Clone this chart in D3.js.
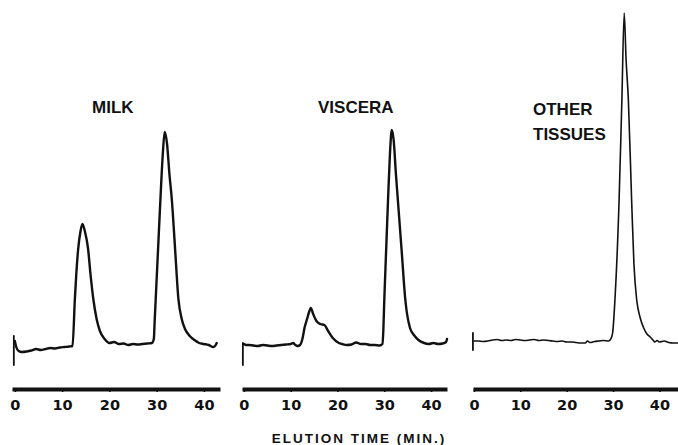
<!DOCTYPE html>
<html>
<head>
<meta charset="utf-8">
<script src="https://cdn.jsdelivr.net/npm/d3@7"></script>
<style>
  body { margin: 0; background: #fff; }
  svg { display: block; }
  .axis .domain { stroke: #111; stroke-width: 4; }
  .axis .tick line { stroke: #111; stroke-width: 1.6; }
  .axis .tick text { font-family: "DejaVu Sans", sans-serif; font-weight: bold; font-size: 14.5px; fill: #111; }
  .trace { fill: none; stroke: #111; stroke-linejoin: round; stroke-linecap: round; }
  .label { font-family: "Liberation Sans", Arial, sans-serif; font-weight: bold; font-size: 17px; fill: #111; }
  .xlabel { font-family: "Liberation Sans", Arial, sans-serif; font-weight: bold; font-size: 13.5px; letter-spacing: 2px; fill: #111; }
</style>
</head>
<body>
<div id="graph"></div>
<script>
'use strict';

// elution time (min) vs detector response
let milkTrace = [
  [0, 48], [0.3, 42], [0.8, 38], [1.5, 37], [2.5, 37.5], [3.5, 38.5], [4.5, 40], [5.5, 39],
  [6.5, 40], [7.5, 41], [8.5, 40.5], [9.5, 41.5], [10.5, 42], [11.5, 42.5], [12.2, 43],
  [12.7, 90], [13.0, 115], [13.4, 140], [13.9, 158], [14.3, 165], [14.8, 158], [15.5, 140],
  [16.0, 115], [16.6, 90], [17.3, 70], [18.0, 58], [19.0, 50], [20.0, 46], [21, 47], [22, 45],
  [23, 45.5], [24, 44], [25, 45], [26, 44.5], [27, 45], [28, 45.5], [29.0, 46], [29.4, 50],
  [29.6, 70], [29.8, 90], [30.3, 140], [30.8, 190], [31.3, 235], [31.7, 257], [32.2, 245],
  [32.7, 215], [33.2, 190], [33.9, 140], [34.6, 90], [35.3, 70], [36.0, 60], [37.0, 53],
  [38.0, 49], [39.0, 46], [40, 45], [41, 44], [42, 42], [42.5, 44], [42.7, 46]
];
let visceraTrace = [
  [0, 45], [0.5, 44], [1, 44], [2, 43.5], [3, 43], [4, 44], [5, 43.5], [6, 43], [7, 43.5],
  [8, 44], [9, 44.5], [10, 45], [10.5, 46], [11, 44], [11.5, 43], [12.0, 44], [12.5, 50],
  [13.0, 62], [13.5, 70], [14.0, 78], [14.3, 81], [14.8, 75], [15.5, 68], [16.3, 65],
  [17.2, 64], [18.0, 58], [19.0, 51], [20.3, 46], [21, 45], [22, 44], [23, 44.5], [24, 46.5],
  [25, 45], [26, 45], [27, 44], [28, 44], [29, 43.5], [29.6, 45], [29.8, 59], [30.0, 89],
  [30.4, 139], [30.8, 189], [31.2, 234], [31.6, 259], [32.0, 249], [32.5, 214], [32.9, 189],
  [33.7, 139], [34.5, 89], [35.5, 61], [36.5, 53], [37.3, 49], [38.5, 46], [39.5, 45],
  [40.5, 46], [41.5, 45], [42.5, 45.5], [43.2, 47], [43.4, 50]
];
let otherTrace = [
  [0, 48], [1, 48], [2, 47.5], [3, 48], [4, 49], [5, 49.5], [6, 48.5], [7, 49], [8, 48.5],
  [9, 49.5], [10, 49], [11, 48.5], [12, 49], [13, 49.5], [14, 48.5], [15, 49], [16, 48.5],
  [17, 48], [18, 47.5], [19, 48], [20, 47], [21, 47], [22, 46.5], [23, 46], [24, 46],
  [24.5, 48], [25, 46.5], [26, 47.5], [27, 48], [28, 48.5], [29, 48], [29.5, 50], [29.9, 56],
  [30.4, 89], [31.3, 189], [31.9, 289], [32.4, 376], [32.8, 330], [33.3, 289], [34.0, 189],
  [34.5, 125], [35.1, 89], [35.8, 72], [36.6, 61], [37.3, 55], [38.0, 52], [38.6, 49],
  [39, 47], [39.5, 48.5], [40, 47], [41, 48], [42, 46.5], [43, 46], [44, 46]
];

let panelNames = [['MILK'], ['VISCERA'], ['OTHER', 'TISSUES']];
let traces = [milkTrace, visceraTrace, otherTrace];
// pen start mark at t = 0: [top, bottom] response
let startMarks = [[53, 24], [46, 24], [56, 39]];
let tickValues = [0, 10, 20, 30, 40];
let timeDomains = [[-0.6, 43.4], [-0.4, 43.4], [-0.2, 44.0]];
let xLabel = 'ELUTION TIME (MIN.)';

let w = 678, h = 445;
let svg = d3.select('#graph').append('svg').attr('width', w).attr('height', h);

// panel layout in pixels
let panels = [
  {range: [12, 220], label: [92, 113], width: 2.4},
  {range: [242, 447], label: [318, 113], width: 2.4},
  {range: [473, 678], label: [533, 115], width: 1.6}
];

let y = d3.scaleLinear().domain([0, 380]).range([389, 9]);

panels.forEach(function(p, i){
  let x = d3.scaleLinear().domain(timeDomains[i]).range(p.range);

  let axis = d3.axisBottom(x)
    .tickValues(tickValues)
    .tickSize(3)
    .tickSizeOuter(0)
    .tickPadding(8);
  svg.append('g')
    .attr('class', 'axis')
    .attr('transform', 'translate(0,' + y(0) + ')')
    .call(axis);

  let line = d3.line()
    .x(function(d){ return x(d[0]); })
    .y(function(d){ return y(d[1]); })
    .curve(d3.curveMonotoneX);
  svg.append('path')
    .datum(traces[i])
    .attr('class', 'trace')
    .attr('stroke-width', p.width)
    .attr('d', line);

  // little vertical stroke where the pen started
  svg.append('line')
    .attr('class', 'trace')
    .attr('stroke-width', 1.8)
    .attr('x1', x(0) - 1).attr('x2', x(0) - 1)
    .attr('y1', y(startMarks[i][0])).attr('y2', y(startMarks[i][1]));

  svg.append('text')
    .attr('class', 'label')
    .selectAll('tspan')
    .data(panelNames[i])
    .enter().append('tspan')
    .attr('x', p.label[0])
    .attr('y', function(d, j){ return p.label[1] + j * 25; })
    .text(function(d){ return d; });
});

svg.append('text')
  .attr('class', 'xlabel')
  .attr('text-anchor', 'middle')
  .attr('x', 359)
  .attr('y', 443)
  .text(xLabel);
</script>
</body>
</html>
